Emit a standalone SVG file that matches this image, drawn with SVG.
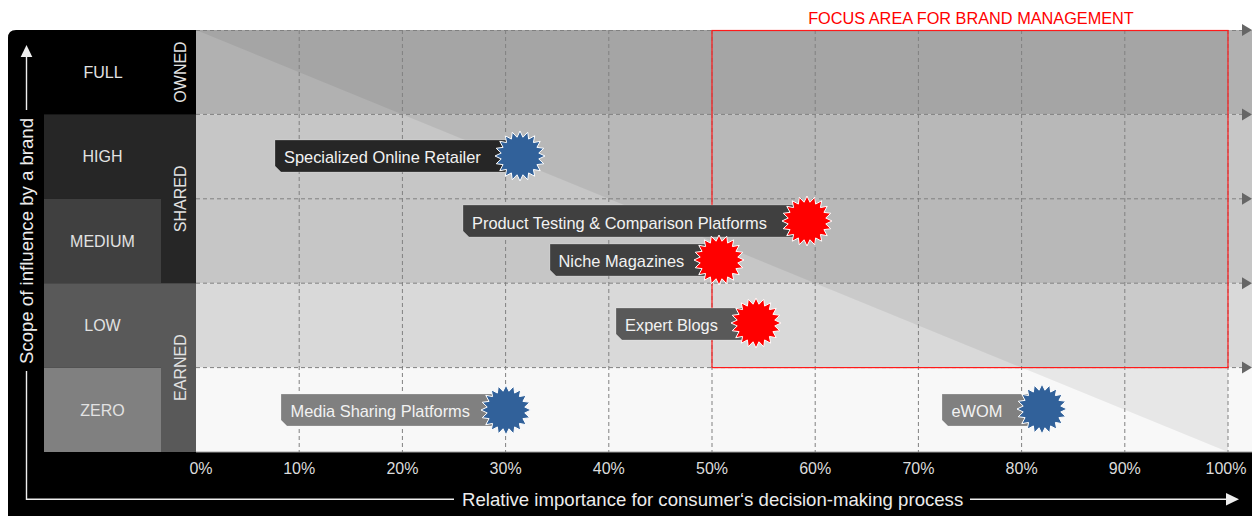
<svg xmlns="http://www.w3.org/2000/svg" width="1252" height="516" viewBox="0 0 1252 516">
<style>
text{font-family:"Liberation Sans",Arial,sans-serif}
.lvl{font-size:16px;fill:#e2e2e2;text-anchor:middle}
.cat{font-size:16px;fill:#e2e2e2;text-anchor:middle}
.tick{font-size:16px;fill:#dcdcdc;text-anchor:middle}
.axt{font-size:18.6px;fill:#ececec}
.lab{font-size:16.4px;fill:#f2f2f2}
.grid{stroke:#808080;stroke-width:1;stroke-dasharray:4,3;fill:none}
.box{stroke:#ffffff;stroke-opacity:0.22;stroke-width:1}
.starb{fill:#31619a;stroke:#ffffff;stroke-width:1}
.starr{fill:#ff0000;stroke:#ffffff;stroke-width:1}
.axl{stroke:#eeeeee;stroke-width:1.4;fill:none}
.rarr{fill:#666666}
</style>
<defs>
<polygon id="star" points="0,-25 2.97,-18.77 7.73,-23.78 8.63,-16.93 14.69,-20.23 13.43,-13.43 20.23,-14.69 16.93,-8.63 23.78,-7.73 18.77,-2.97 25,0 18.77,2.97 23.78,7.73 16.93,8.63 20.23,14.69 13.43,13.43 14.69,20.23 8.63,16.93 7.73,23.78 2.97,18.77 0,25 -2.97,18.77 -7.73,23.78 -8.63,16.93 -14.69,20.23 -13.43,13.43 -20.23,14.69 -16.93,8.63 -23.78,7.73 -18.77,2.97 -25,0 -18.77,-2.97 -23.78,-7.73 -16.93,-8.63 -20.23,-14.69 -13.43,-13.43 -14.69,-20.23 -8.63,-16.93 -7.73,-23.78 -2.97,-18.77"/>
</defs>
<rect width="1252" height="516" fill="#ffffff"/>
<!-- black frame -->
<path d="M8,516 V38 Q8,30 16,30 H196 V452 H1252 V516 Z" fill="#000000"/>
<!-- rows -->
<g id="rows">
<rect x="196" y="30" width="1056" height="84.4" fill="#b1b1b1"/>
<rect x="196" y="114.4" width="1056" height="168.8" fill="#c6c6c6"/>
<rect x="196" y="283.2" width="1056" height="84.4" fill="#d9d9d9"/>
<rect x="196" y="367.6" width="1056" height="84.4" fill="#f8f8f8"/>
<polygon points="196,30 1228,30 1228,452" fill="#000000" fill-opacity="0.066"/>
<line x1="196" y1="452" x2="1252" y2="452" stroke="#a0a0a0" stroke-width="1"/>
</g>
<!-- grid -->
<g id="grid">
<path class="grid" d="M196,30.5H1243 M196,114.4H1243 M196,198.8H1243 M196,283.2H1243 M196,367.6H1243"/>
<path class="grid" d="M299.2,30V452 M402.4,30V452 M505.6,30V452 M608.8,30V452 M712,30V452 M815.2,30V452 M918.4,30V452 M1021.6,30V452 M1124.8,30V452 M1228,30V452"/>
<polygon class="rarr" points="1242,24 1252,30 1242,36"/>
<polygon class="rarr" points="1242,108.4 1252,114.4 1242,120.4"/>
<polygon class="rarr" points="1242,192.8 1252,198.8 1242,204.8"/>
<polygon class="rarr" points="1242,277.2 1252,283.2 1242,289.2"/>
<polygon class="rarr" points="1242,361.6 1252,367.6 1242,373.6"/>
</g>
<!-- focus area -->
<g id="focus">
<rect x="712" y="30.5" width="516" height="337.1" fill="none" stroke="#ff1a1a" stroke-width="1.2"/>
<text x="971" y="24" font-size="16.3" fill="#ff0000" text-anchor="middle">FOCUS AREA FOR BRAND MANAGEMENT</text>
</g>
<!-- level column -->
<g id="level-full"><text class="lvl" x="103" y="78">FULL</text></g>
<g id="level-high"><rect x="44" y="114.4" width="117" height="84.4" fill="#262626"/><text class="lvl" x="102.5" y="162.3">HIGH</text></g>
<g id="level-medium"><rect x="44" y="198.8" width="117" height="84.4" fill="#404040"/><text class="lvl" x="102.5" y="246.7">MEDIUM</text></g>
<g id="level-low"><rect x="44" y="283.2" width="117" height="84.4" fill="#595959"/><text class="lvl" x="102.5" y="331.1">LOW</text></g>
<g id="level-zero"><rect x="44" y="367.6" width="117" height="84.4" fill="#808080"/><text class="lvl" x="102.5" y="415.5">ZERO</text></g>
<!-- category column -->
<g id="cat-owned"><text class="cat" transform="translate(185.5,72) rotate(-90)">OWNED</text></g>
<g id="cat-shared"><rect x="161" y="114.4" width="35" height="168.8" fill="#262626"/><text class="cat" transform="translate(185.5,198.8) rotate(-90)">SHARED</text></g>
<g id="cat-earned"><rect x="161" y="283.2" width="35" height="168.8" fill="#595959"/><text class="cat" transform="translate(185.5,367.6) rotate(-90)">EARNED</text></g>
<!-- axes -->
<g id="axes">
<path class="axl" d="M26.5,57 V110 M26.5,371 V499.3 H454 M970,499.3 H1227"/>
<polygon points="20.7,57 26.5,45 32.3,57" fill="#eeeeee"/>
<polygon points="1226,493 1239,499.3 1226,505.6" fill="#eeeeee"/>
<text class="axt" text-anchor="middle" transform="translate(32.8,241) rotate(-90)">Scope of influence by a brand</text>
<text class="axt" x="462" y="505.5">Relative importance for consumer‘s decision-making process</text>
</g>
<g id="ticks">
<text class="tick" x="201" y="474.3">0%</text>
<text class="tick" x="299.2" y="474.3">10%</text>
<text class="tick" x="402.4" y="474.3">20%</text>
<text class="tick" x="505.6" y="474.3">30%</text>
<text class="tick" x="608.8" y="474.3">40%</text>
<text class="tick" x="712" y="474.3">50%</text>
<text class="tick" x="815.2" y="474.3">60%</text>
<text class="tick" x="918.4" y="474.3">70%</text>
<text class="tick" x="1021.6" y="474.3">80%</text>
<text class="tick" x="1124.8" y="474.3">90%</text>
<text class="tick" x="1226" y="474.3">100%</text>
</g>
<!-- items -->
<g id="item-specialized-online-retailer">
<path class="box" d="M275,140 H515 V172 H281 L275,166 Z" fill="#262626"/>
<text class="lab" x="284" y="162.7">Specialized Online Retailer</text>
<use href="#star" class="starb" x="520" y="156"/>
</g>
<g id="item-product-testing">
<path class="box" d="M463,205 H800 V237 H469 L463,231 Z" fill="#404040"/>
<text class="lab" x="472" y="228.5">Product Testing &amp; Comparison Platforms</text>
<use href="#star" class="starr" x="807" y="221"/>
</g>
<g id="item-niche-magazines">
<path class="box" d="M550,244 H715 V276 H556 L550,270 Z" fill="#404040"/>
<text class="lab" x="558.5" y="267">Niche Magazines</text>
<use href="#star" class="starr" x="719" y="260"/>
</g>
<g id="item-expert-blogs">
<path class="box" d="M616,308 H750 V340 H622 L616,334 Z" fill="#595959"/>
<text class="lab" x="625" y="330.5">Expert Blogs</text>
<use href="#star" class="starr" x="756" y="323"/>
</g>
<g id="item-media-sharing">
<path class="box" d="M281,394 H500 V426 H287 L281,420 Z" fill="#808080"/>
<text class="lab" x="290.5" y="417">Media Sharing Platforms</text>
<use href="#star" class="starb" x="506" y="410"/>
</g>
<g id="item-ewom">
<path class="box" d="M942,394 H1035 V426 H948 L942,420 Z" fill="#808080"/>
<text class="lab" x="951.5" y="417">eWOM</text>
<use href="#star" class="starb" x="1042" y="409"/>
</g>
</svg>
